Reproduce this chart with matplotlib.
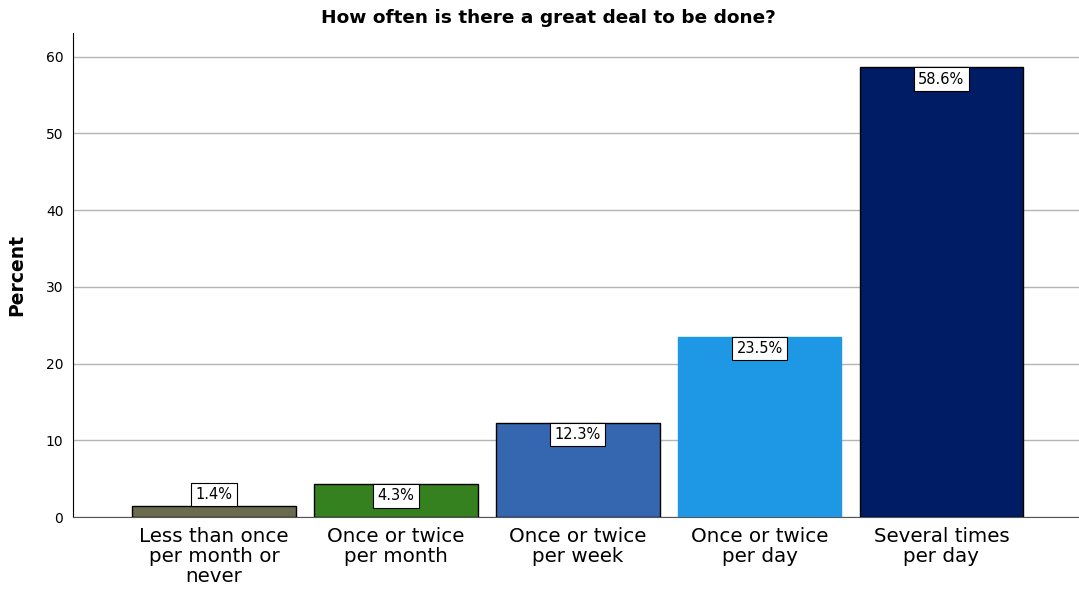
import matplotlib.pyplot as plt

categories = ["Less than once\nper month or\nnever", "Once or twice\nper month",
              "Once or twice\nper week", "Once or twice\nper day", "Several times\nper day"]
percent = [1.4, 4.3, 12.3, 23.5, 58.6]
colors = ["#6b6b4f", "#35801f", "#3566b0", "#1e98e4", "#001c64"]
edges = ["black", "black", "black", "#1e98e4", "black"]

fig = plt.figure(figsize=(10.79, 5.89), dpi=100)
ax = fig.add_axes([0.0677, 0.1222, 0.932, 0.822])

x = range(len(categories))
bars = ax.bar(x, percent, width=0.9, color=colors, edgecolor=edges, linewidth=1.0, zorder=3)

fs = 10.5
pad = 0.3
for b, v in zip(bars, percent):
    cx = b.get_x() + b.get_width() / 2
    # small bars get their label above, the rest inside the top
    if v < 3:
        va, dy = "bottom", pad * fs
    else:
        va, dy = "top", -pad * fs
    ax.annotate(f"{v}%", (cx, v), xytext=(0, dy), textcoords="offset points",
                ha="center", va=va, fontsize=fs, zorder=4,
                bbox=dict(boxstyle=f"square,pad={pad}", fc="white", ec="black", lw=0.8))

ax.set_xlim(-0.775, 4.755)
ax.set_ylim(0, 63.1)
ax.set_yticks(range(0, 61, 10))
ax.yaxis.grid(True, color="#b4b4b4", linewidth=1.0, zorder=0)
ax.set_xticks(list(x))
ax.set_xticklabels(categories, fontsize=14.3, linespacing=1.08)
ax.tick_params(axis="x", length=0, pad=7)
ax.tick_params(axis="y", labelsize=10, length=0, pad=7)

for s in ["top", "right"]:
    ax.spines[s].set_visible(False)
ax.spines["bottom"].set_color("#555555")

ax.set_ylabel("Percent", fontsize=13.5, fontweight="bold", labelpad=14)
fig.suptitle("How often is there a great deal to be done?", x=0.508, y=0.985,
             va="top", fontsize=13.3, fontweight="bold")

fig.savefig("out.png", dpi=100)
